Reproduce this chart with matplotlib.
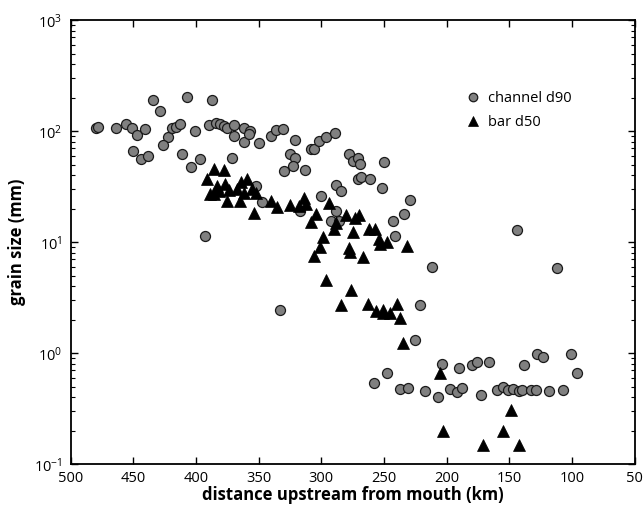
import matplotlib
matplotlib.use("Agg")
import matplotlib.pyplot as plt
from matplotlib.ticker import LogLocator, NullFormatter

plt.rcParams['font.family'] = ['Open Sans', 'DejaVu Sans']
plt.rcParams['mathtext.fontset'] = 'custom'
plt.rcParams['mathtext.rm'] = 'Open Sans'
plt.rcParams['mathtext.it'] = 'Open Sans'

# channel d90 (gray circles)
channel_km = [480, 478, 464, 456, 451, 447, 441, 450, 444, 438, 434, 429, 422, 426, 419, 416,
              413, 407, 411, 401, 404, 397, 387, 390, 384, 381, 378, 375, 370, 370, 371, 362,
              362, 357, 358, 350, 340, 336, 393, 352, 347, 331, 321, 308, 306, 302, 296, 289,
              325, 321, 323, 330, 313, 278, 275, 271, 269, 250, 271, 268, 261, 252, 288, 284,
              300, 229, 234, 243, 241, 288, 292, 286, 317, 333, 144, 212, 221, 225, 258, 248,
              237, 231, 217, 207, 204, 197, 192, 188, 190, 180, 176, 166, 173, 160, 155, 151,
              147, 142, 140, 133, 129, 138, 128, 123, 118, 107, 101, 96, 112]
channel_d90 = [107, 110, 108, 116, 108, 93, 105, 66, 56, 60, 190, 151, 89, 75, 106, 110,
               116, 204, 62, 100, 48, 56, 190, 113, 119, 116, 112, 107, 115, 91, 58, 106,
               80, 101, 95, 79, 91, 103, 11.4, 32, 23, 104, 84, 69, 69, 81, 89, 97,
               62, 57, 49, 44, 45, 63, 54, 58, 51, 53, 37, 39, 37, 31, 33, 29,
               26, 24, 18, 15.6, 11.3, 19, 15.6, 15.6, 19.3, 2.45, 12.9, 5.95, 2.72, 1.32, 0.54, 0.67,
               0.48, 0.49, 0.46, 0.40, 0.80, 0.48, 0.45, 0.49, 0.73, 0.78, 0.83, 0.84, 0.42, 0.47, 0.50, 0.47,
               0.48, 0.46, 0.47, 0.47, 0.47, 0.78, 0.99, 0.93, 0.46, 0.47, 0.98, 0.67, 5.9]

# bar d50 (black triangles)
bar_km = [386, 378, 391, 383, 377, 364, 359, 389, 386, 382, 374, 367, 362, 355, 375, 365,
          352, 354, 340, 335, 325, 318, 314, 312, 294, 304, 308, 288, 290, 280, 273, 270,
          275, 262, 257, 254, 253, 248, 232, 299, 301, 306, 278, 277, 267, 296, 276, 284,
          263, 256, 251, 251, 245, 240, 237, 235, 205, 203, 171, 155, 149, 142]
bar_d50 = [46, 44.5, 37, 32, 33.5, 35, 37, 27, 27, 29, 29.4, 30, 27.6, 30, 23.4, 23.4,
           27.6, 18.5, 23.6, 21, 21.5, 21.3, 25, 22, 22.6, 17.8, 15.3, 14.8, 13.2, 17.5, 16.6, 17.5,
           12.3, 13.3, 13.3, 10.7, 9.7, 10.1, 9.2, 11.2, 9.1, 7.6, 8.8, 8.1, 7.3, 4.6, 3.7, 2.7,
           2.8, 2.4, 2.45, 2.3, 2.3, 2.8, 2.07, 1.23, 0.66, 0.20, 0.15, 0.20, 0.31, 0.15]

x_ticks = [500, 450, 400, 350, 300, 250, 200, 150, 100, 50]

fig = plt.figure(figsize=(6.44, 5.12), dpi=100)
ax = fig.add_axes([0.1098, 0.0932, 0.8757, 0.8672])

ax.plot(channel_km, channel_d90, linestyle='none', marker='o', markersize=7.2,
        markerfacecolor='#808080', markeredgecolor='#1a1a1a', markeredgewidth=0.9,
        label='channel d90')
ax.plot(bar_km, bar_d50, linestyle='none', marker='^', markersize=8.5,
        markerfacecolor='black', markeredgecolor='black', markeredgewidth=0.5,
        label='bar d50')

ax.set_yscale('log')
ax.set_xlim(500, 50)
ax.set_ylim(0.1, 1000)
ax.set_xticks(x_ticks)
ax.set_xticklabels([str(v) for v in x_ticks])
ax.yaxis.set_major_locator(LogLocator(base=10, numticks=10))
ax.yaxis.set_minor_locator(LogLocator(base=10, subs=range(2, 10), numticks=20))
ax.yaxis.set_minor_formatter(NullFormatter())

ax.tick_params(which='both', direction='in', top=True, right=True, labelsize=10.5)
ax.tick_params(which='major', length=5, width=1)
ax.tick_params(which='minor', length=3, width=0.8)
ax.tick_params(axis='x', pad=5)
ax.tick_params(axis='y', pad=6)
for s in ax.spines.values():
    s.set_linewidth(1.3)

ax.set_xlabel('distance upstream from mouth (km)', fontsize=12, fontweight='bold', labelpad=0)
ax.set_ylabel('grain size (mm)', fontsize=12, fontweight='bold', labelpad=6)

ax.legend(loc='upper left', bbox_to_anchor=(0.675, 0.87), frameon=False, fontsize=10.5,
          markerscale=0.85, handletextpad=0.4, labelspacing=0.6, handlelength=1.2)

fig.savefig('out.png', dpi=100)
